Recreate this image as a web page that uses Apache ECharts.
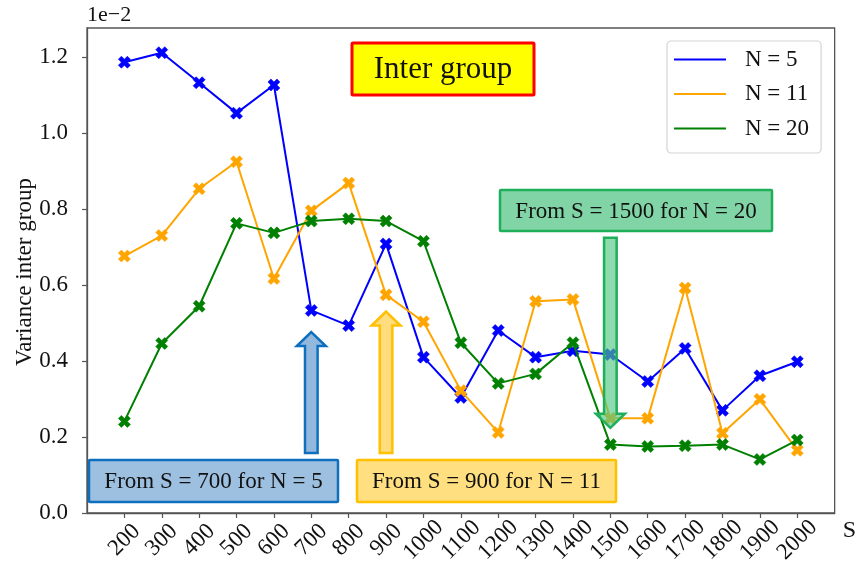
<!DOCTYPE html>
<html>
<head>
<meta charset="utf-8">
<script src="https://cdn.jsdelivr.net/npm/echarts@6/dist/echarts.min.js"></script>
<style>
html,body{margin:0;padding:0;background:#fff;}
#chart{width:859px;height:573px;}
</style>
</head>
<body>
<div id="chart"></div>
<script>
// ---- data (values in units of 1e-2) ----
const S = [200,300,400,500,600,700,800,900,1000,1100,1200,1300,1400,1500,1600,1700,1800,1900,2000];
const varN5  = [1.186,1.211,1.132,1.052,1.126,0.533,0.493,0.708,0.410,0.304,0.480,0.410,0.427,0.417,0.346,0.433,0.270,0.361,0.398];
const varN11 = [0.676,0.730,0.853,0.924,0.617,0.795,0.868,0.574,0.503,0.322,0.212,0.557,0.562,0.249,0.249,0.592,0.210,0.299,0.165];
const varN20 = [0.241,0.446,0.544,0.762,0.737,0.768,0.774,0.768,0.715,0.448,0.341,0.366,0.448,0.180,0.175,0.177,0.180,0.141,0.192];
const yTicks = [0,0.2,0.4,0.6,0.8,1.0,1.2];
const seriesNames = ['N = 5','N = 11','N = 20'];
const seriesColors = ['#0000ff','#ffa500','#008000'];
const yAxisTitle = 'Variance inter group';

const FONT = 'Liberation Serif';
const XMARK = 'path://M0,3 L3,0 L6,3 L9,0 L12,3 L9,6 L12,9 L9,12 L6,9 L3,12 L0,9 L3,6 Z';

const chart = echarts.init(document.getElementById('chart'));
const allVals = [varN5, varN11, varN20];

const option = {
  animation: false,
  backgroundColor: '#ffffff',
  textStyle: { fontFamily: FONT },
  grid: { left: 87, right: 23, top: 28, bottom: 60, show: true, borderColor: '#555', borderWidth: 1.3, backgroundColor: 'transparent' },
  xAxis: {
    type: 'value', min: 100, max: 2100,
    name: 'S', nameLocation: 'end', nameGap: 8,
    nameTextStyle: { fontFamily: FONT, fontSize: 24, color: '#111', verticalAlign: 'top', align: 'left', padding: [6,0,0,0] },
    axisLine: { show: true, lineStyle: { color: '#555', width: 1.3 } },
    axisTick: { show: true, inside: false, length: 5, lineStyle: { color: '#555', width: 1.2 }, customValues: S },
    axisLabel: { rotate: 45, margin: 27, align: 'center', verticalAlign: 'middle', fontFamily: FONT, fontSize: 23, color: '#111', customValues: S, formatter: v => String(v) },
    splitLine: { show: false }
  },
  yAxis: {
    type: 'value', min: 0, max: 1.276,
    axisLine: { show: true, lineStyle: { color: '#555', width: 1.3 } },
    axisTick: { show: true, inside: false, length: 5, lineStyle: { color: '#555', width: 1.2 }, customValues: yTicks },
    axisLabel: { margin: 19, fontFamily: FONT, fontSize: 23, color: '#111', customValues: yTicks, formatter: v => v.toFixed(1) },
    splitLine: { show: false }
  },
  legend: {
    orient: 'vertical', left: 667, top: 41,
    padding: [7, 12, 13, 7],
    itemGap: 11.5,
    itemWidth: 52, itemHeight: 2,
    icon: 'rect',
    itemStyle: { borderWidth: 0 },
    backgroundColor: '#fff', borderColor: '#d4d4d4', borderWidth: 1.2, borderRadius: 4,
    textStyle: { fontFamily: FONT, fontSize: 23, lineHeight: 23, color: '#111', padding: [0,0,0,14] },
    data: seriesNames
  },
  series: seriesNames.map((name, k) => ({
    name: name, type: 'line',
    data: S.map((s, i) => [s, allVals[k][i]]),
    symbol: XMARK, symbolSize: 12,
    lineStyle: { color: seriesColors[k], width: 2 },
    itemStyle: { color: seriesColors[k], borderColor: seriesColors[k], borderWidth: 0.6 },
    z: 3 + k
  }))
};
chart.setOption(option);

// ---- annotations ----
const arrows = [
  { s: 700,  tip: 0.476, tail: 0.158, dir: 'up',   fill: 'rgba(128,172,216,0.85)', stroke: '#0f6fbf' },
  { s: 900,  tip: 0.530, tail: 0.158, dir: 'up',   fill: 'rgba(255,214,102,0.85)', stroke: '#ffc000' },
  { s: 1500, tip: 0.224, tail: 0.724, dir: 'down', fill: 'rgba(80,200,130,0.65)',  stroke: '#1fae5a' }
];
function arrowPoints(a) {
  const p1 = chart.convertToPixel({ gridIndex: 0 }, [a.s, a.tip]);
  const p2 = chart.convertToPixel({ gridIndex: 0 }, [a.s, a.tail]);
  const cx = p1[0], ty = p1[1], by = p2[1];
  const sgn = a.dir === 'up' ? 1 : -1;
  const hb = ty + sgn * 14;
  const hw = 14.5, sw = 6.3;
  return [[cx, ty], [cx + hw, hb], [cx + sw, hb], [cx + sw, by], [cx - sw, by], [cx - sw, hb], [cx - hw, hb]];
}
const boxes = [
  { x: 89,  y: 460, w: 249, h: 42, fill: '#9dbfe0', stroke: '#0f6fbf', lw: 2.5, text: 'From S = 700 for N = 5',  fs: 23 },
  { x: 357, y: 460, w: 259, h: 42, fill: '#ffdf80', stroke: '#ffc000', lw: 2.5, text: 'From S = 900 for N = 11', fs: 23 },
  { x: 500, y: 190, w: 272, h: 41, fill: '#80d4a6', stroke: '#1fae5a', lw: 2.5, text: 'From S = 1500 for N = 20', fs: 23 },
  { x: 352, y: 43,  w: 182, h: 52, fill: '#ffff00', stroke: '#ff0000', lw: 3,   text: 'Inter group', fs: 31 }
];
const graphic = [];
arrows.forEach(a => {
  graphic.push({ type: 'polygon', z: 100, shape: { points: arrowPoints(a) }, style: { fill: a.fill, stroke: a.stroke, lineWidth: 2.5 } });
});
boxes.forEach(b => {
  graphic.push({ type: 'rect', z: 100, shape: { x: b.x, y: b.y, width: b.w, height: b.h, r: 1 }, style: { fill: b.fill, stroke: b.stroke, lineWidth: b.lw } });
  graphic.push({ type: 'text', z: 101, x: b.x + b.w / 2, y: b.y + b.h / 2 + 1, style: { text: b.text, fontFamily: FONT, fontSize: b.fs, fill: '#111', align: 'center', verticalAlign: 'middle' } });
});
graphic.push({ type: 'text', z: 101, left: 87, top: 4, style: { text: '1e\u22122', fontFamily: FONT, fontSize: 22, fill: '#111' } });
graphic.push({ type: 'text', z: 101, x: 25, y: 272, rotation: Math.PI / 2, style: { text: yAxisTitle, fontFamily: FONT, fontSize: 23, fill: '#111', align: 'center', verticalAlign: 'middle' } });
chart.setOption({ graphic: graphic });
</script>
</body>
</html>
